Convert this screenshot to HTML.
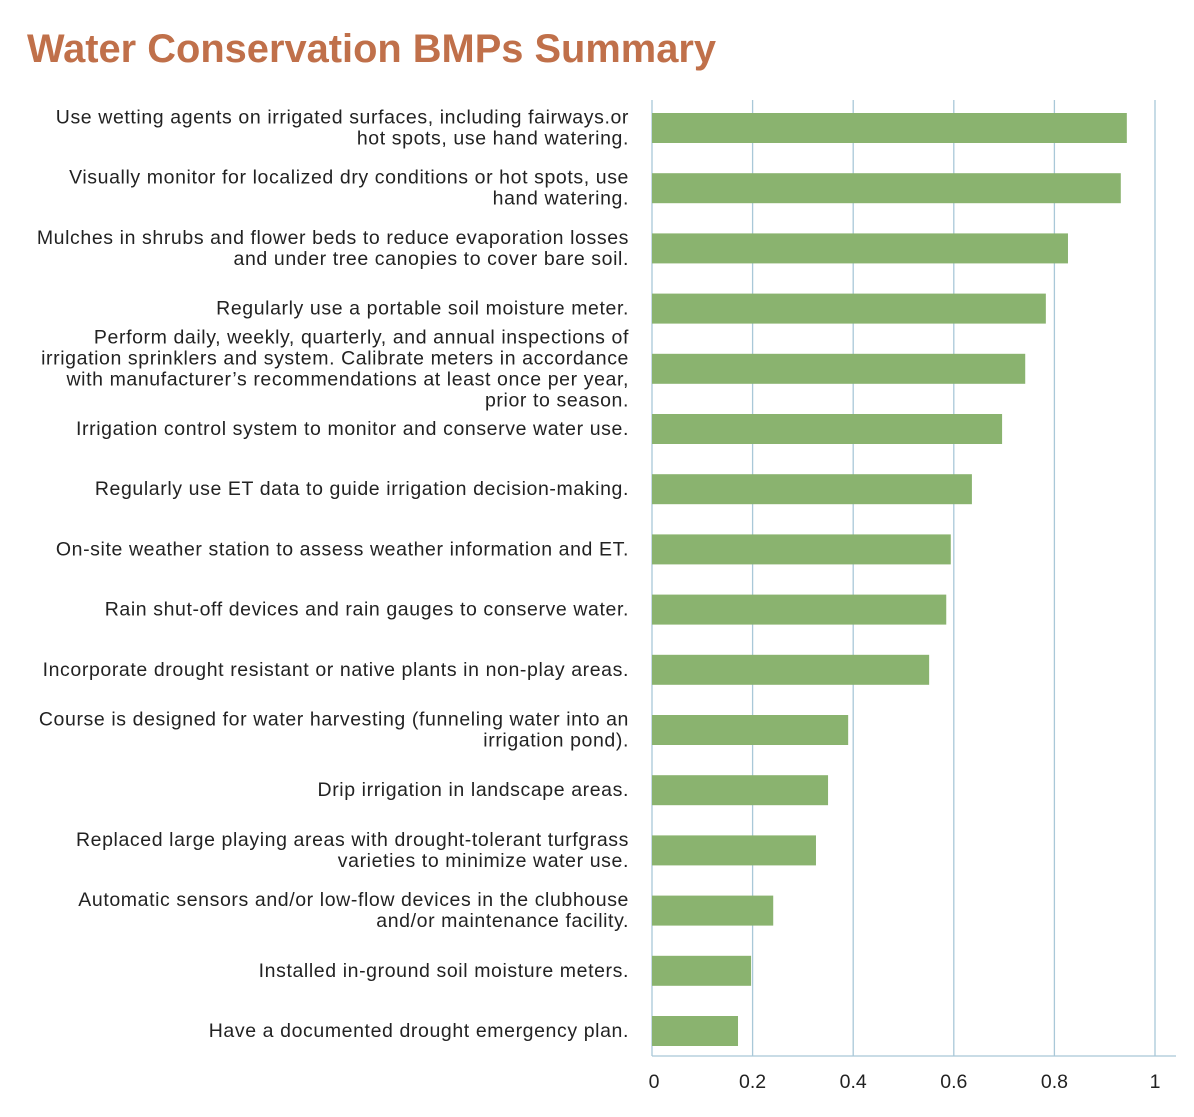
<!DOCTYPE html>
<html><head><meta charset="utf-8"><style>
html,body{margin:0;padding:0;background:#fff;}
svg{display:block;font-family:"Liberation Sans",Arial,sans-serif;}
</style></head><body>
<svg id="chart" width="1194" height="1117">
<text x="27" y="62" font-size="40" font-weight="bold" fill="#c0704a" textLength="689" lengthAdjust="spacingAndGlyphs">Water Conservation BMPs Summary</text>
<g id="grid"></g><g id="bars"></g><g id="labels"></g><g id="ticks"></g>
</svg>
<script>
const categories = [
 ["Use wetting agents on irrigated surfaces, including fairways.or","hot spots, use hand watering."],
 ["Visually monitor for localized dry conditions or hot spots, use","hand watering."],
 ["Mulches in shrubs and flower beds to reduce evaporation losses","and under tree canopies to cover bare soil."],
 ["Regularly use a portable soil moisture meter."],
 ["Perform daily, weekly, quarterly, and annual inspections of","irrigation sprinklers and system. Calibrate meters in accordance","with manufacturer\u2019s recommendations at least once per year,","prior to season."],
 ["Irrigation control system to monitor and conserve water use."],
 ["Regularly use ET data to guide irrigation decision-making."],
 ["On-site weather station to assess weather information and ET."],
 ["Rain shut-off devices and rain gauges to conserve water."],
 ["Incorporate drought resistant or native plants in non-play areas."],
 ["Course is designed for water harvesting (funneling water into an","irrigation pond)."],
 ["Drip irrigation in landscape areas."],
 ["Replaced large playing areas with drought-tolerant turfgrass","varieties to minimize water use."],
 ["Automatic sensors and/or low-flow devices in the clubhouse","and/or maintenance facility."],
 ["Installed in-ground soil moisture meters."],
 ["Have a documented drought emergency plan."]
];
const values = [0.944,0.932,0.827,0.783,0.742,0.696,0.636,0.594,0.585,0.551,0.390,0.350,0.326,0.241,0.197,0.171];
const tickValues = [0,0.2,0.4,0.6,0.8,1];
const tickLabels = ["0","0.2","0.4","0.6","0.8","1"];

const NS="http://www.w3.org/2000/svg";
const x0=652,x1=1155,yTop=100,yBottom=1056,rowH=60.2,firstC=128,barH=30;
const xs=v=>x0+(x1-x0)*v;
const yc=i=>firstC+i*rowH;
function mk(tag,attrs,parent){const e=document.createElementNS(NS,tag);for(const k in attrs)e.setAttribute(k,attrs[k]);parent.appendChild(e);return e;}
const grid=document.getElementById('grid'),bars=document.getElementById('bars'),labels=document.getElementById('labels'),ticks=document.getElementById('ticks');
tickValues.forEach((t,i)=>{
 const l=mk('line',{x1:xs(t),x2:xs(t),y1:yTop,y2:yBottom,stroke:'#a9c8d8','stroke-width':1.3},grid);
 
 
 const tx=mk('text',{x:xs(t)+(i==0?2:0),y:1088,'font-size':19.5,fill:'#222','text-anchor':'middle'},ticks);
 tx.textContent=tickLabels[i];
 
 
});
const base=mk('line',{x1:x0,x2:1176,y1:yBottom,y2:yBottom,stroke:'#a9c8d8','stroke-width':1.3},grid);


values.forEach((v,i)=>{
 const r=mk('rect',{x:x0,y:yc(i)-barH/2,width:xs(v)-x0,height:barH,fill:'#8ab36f'},bars);
 
 
 const lines=categories[i];const lh=21;
 const t=mk('text',{'font-size':19.5,'letter-spacing':0.6,fill:'#222','text-anchor':'end'},labels);
 
 
 lines.forEach((s,j)=>{
  const ts=mk('tspan',{x:629,y:yc(i)-(lines.length-1)*lh/2+j*lh+6},t);
  ts.textContent=s;
 });
});
</script>
</body></html>
